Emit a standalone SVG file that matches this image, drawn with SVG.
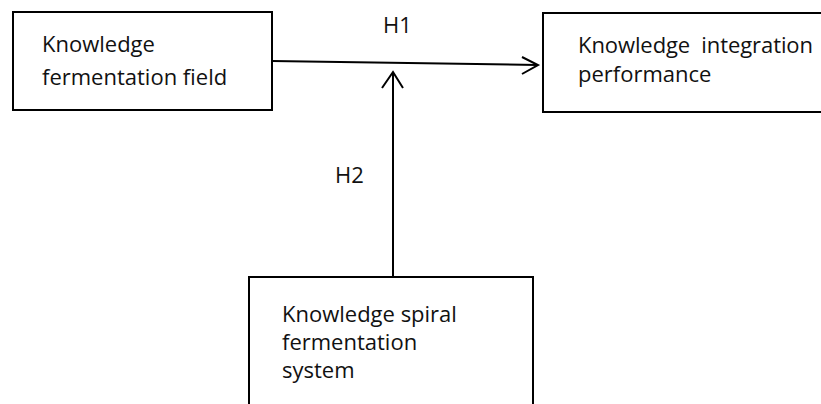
<svg xmlns="http://www.w3.org/2000/svg" width="821" height="404" viewBox="0 0 821 404">
<style>
.box{fill:#fff;stroke:#000;stroke-width:2}
.t{font-family:"Open Sans","Liberation Sans",sans-serif;font-size:22px;fill:#111;white-space:pre}
.c{fill:none;stroke:#000;stroke-width:2}
</style>
<rect width="821" height="404" fill="#fff"/>
<g id="node-field">
<rect class="box" x="13" y="12" width="259" height="98"/>
<text class="t" x="42" y="52">Knowledge</text>
<text class="t" x="42" y="85">fermentation field</text>
</g>
<g id="node-performance">
<rect class="box" x="543" y="13" width="290" height="99"/>
<text class="t" x="578" y="53" textLength="235" lengthAdjust="spacing" xml:space="preserve">Knowledge  integration</text>
<text class="t" x="578" y="82">performance</text>
</g>
<g id="node-spiral">
<rect class="box" x="249" y="277" width="284" height="140"/>
<text class="t" x="282" y="322">Knowledge spiral</text>
<text class="t" x="282" y="350">fermentation</text>
<text class="t" x="282" y="378">system</text>
</g>
<g id="connectors">
<path class="c" d="M272 61 L538 65"/>
<path class="c" d="M522 57 L538 65 L522 74"/>
<path class="c" d="M393 277 L393 72"/>
<path class="c" d="M382 88 L393 72 L403 88"/>
<text class="t" x="383" y="33">H1</text>
<text class="t" x="335" y="183">H2</text>
</g>
</svg>
